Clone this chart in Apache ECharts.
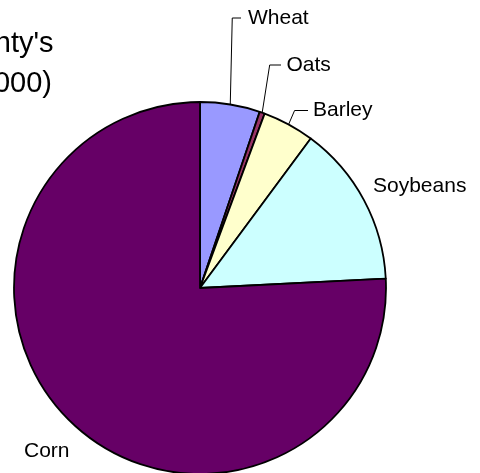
<!DOCTYPE html>
<html><head><meta charset="utf-8">
<script src="https://cdn.jsdelivr.net/npm/echarts@6/dist/echarts.min.js"></script>
<style>html,body{margin:0;padding:0;background:#fff;overflow:hidden}#c{width:480px;height:473px}</style>
</head><body><div id="c"></div>
<script>
// ---- data ----
const categories = ['Wheat', 'Oats', 'Barley', 'Soybeans', 'Corn'];
const shares = [5.2, 0.45, 4.5, 14.05, 75.8];
const titleLines = ["nty's", "000)"];

// ---- styles / layout ----
const sliceColors = ['#9999FF', '#993366', '#FFFFCC', '#CCFFFF', '#660066'];
const labelPlacement = [
  { x: 248, y: 18, elbowDx: 2, gap: 7, line: true },
  { x: 286.5, y: 65, elbowDx: 7.5, gap: 5.5, line: true },
  { x: 313, y: 110.5, elbowDx: 6, gap: 5, line: true },
  { x: 373, y: 186, line: false },
  { x: 24, y: 451, line: false }
];
const titleRight = [53.5, 52];
const titleMid = [44, 84];
const FONT = '"Liberation Sans", Arial, sans-serif';

const chart = echarts.init(document.getElementById('c'), null, { renderer: 'canvas' });
chart.setOption({
  animation: false,
  backgroundColor: '#ffffff',
  graphic: titleLines.map((t, i) => ({
    type: 'text',
    x: titleRight[i],
    y: titleMid[i],
    style: { text: t, font: '29px ' + FONT, fill: '#000', align: 'right', verticalAlign: 'middle' }
  })),
  series: [{
    type: 'pie',
    center: [200, 288],
    radius: 186,
    startAngle: 90,
    clockwise: true,
    avoidLabelOverlap: false,
    emphasis: { disabled: true },
    itemStyle: { borderColor: '#000', borderWidth: 1.8 },
    label: { show: true, position: 'outside', formatter: '{b}', color: '#000', fontSize: 21, fontFamily: FONT },
    labelLine: { show: true, length: 10, length2: 10, lineStyle: { color: '#000', width: 1 } },
    labelLayout: function (p) {
      const lp = labelPlacement[p.dataIndex];
      const out = { x: lp.x, y: lp.y, align: 'left', verticalAlign: 'middle' };
      if (lp.line && p.labelLinePoints) {
        const s = p.labelLinePoints[0];
        out.labelLinePoints = [[s[0], s[1]], [s[0] + lp.elbowDx, lp.y], [lp.x - lp.gap, lp.y]];
      }
      return out;
    },
    data: categories.map((name, i) => ({
      name: name,
      value: shares[i],
      itemStyle: { color: sliceColors[i] },
      labelLine: { show: labelPlacement[i].line }
    }))
  }]
});
</script>
</body></html>
